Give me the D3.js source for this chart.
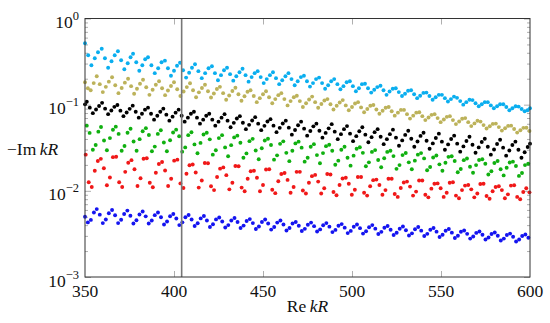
<!DOCTYPE html>
<html>
<head>
<meta charset="utf-8">
<script src="https://cdn.jsdelivr.net/npm/d3@7"></script>
<style>
	body { margin: 0; background: #fff; }
	svg text { font-family: "Liberation Serif", "DejaVu Serif", serif; fill: #111; }
</style>
</head>
<body>
<svg id="chart" width="550" height="323" font-family="Liberation Serif, DejaVu Serif, serif"></svg>
<script>
// resonances, Re kR / Im kR
var cyanRe = [350.0,351.8,353.6,355.5,357.3, 359.4,361.2,363.0,364.9,366.7, 368.5,370.3,372.1,374.0,375.6, 377.0,378.8,380.5,382.2,383.8, 385.4,387.3,389.2,391.1,393.0, 394.9,396.6,398.3,400.0,401.7, 403.4,405.1,406.8,408.5,410.1, 411.8,413.7,415.6,417.5,419.4, 421.3,423.0,424.7,426.4,428.1, 429.8,431.5,433.3,435.0,436.8, 438.5,440.2,441.9,443.6,445.3, 447.0,448.7,450.4,452.1,453.9, 455.6,457.3,459.1,460.8,462.6, 464.3,466.0,467.8,469.5,471.3, 473.0,474.7,476.4,478.1,479.8, 481.5,483.2,484.9,486.6,488.3, 490.0,491.8,493.5,495.2,497.0, 498.8,500.5,502.2,503.9,505.6, 507.3,509.0,510.8,512.5,514.2, 516.0,517.7,519.4,521.1,522.9, 524.6,526.3,528.1,529.8,531.5, 533.2,534.9,536.6,538.3,540.1, 541.8,543.5,545.3,547.0,548.8, 550.5,552.2,553.9,555.6,557.3, 559.0,560.8,562.5,564.2,566.0, 567.7,569.4,571.2,572.9,574.6, 576.3,578.0,579.7,581.5,583.2, 585.0,586.7,588.4,590.1,591.9, 593.6,595.3,597.0,598.6,600.0];
var cyanIm = [.516,.374,.287,.346,.406, .445,.346,.268,.319,.374, .417,.328,.258,.303,.355, .390,.311,.248,.287,.337, .355,.287,.232,.265,.311, .324,.265,.217,.248,.283, .307,.251,.206,.235,.268, .295,.245,.203,.232,.265, .279,.232,.192,.220,.251, .268,.226,.190,.214,.238, .261,.220,.185,.209,.232, .245,.209,.178,.198,.220, .238,.203,.173,.192,.214, .232,.198,.168,.187,.209, .217,.187,.162,.178,.198, .206,.178,.153,.168,.187, .198,.173,.151,.164,.182, .187,.164,.143,.155,.173, .175,.155,.138,.149,.160, .166,.147,.130,.142,.153, .155,.140,.126,.134,.145, .147,.132,.119,.127,.137, .138,.126,.114,.122,.130, .130,.119,.109,.116,.124, .120,.110,.100,.107,.114, .113,.104,.096,.101,.107, .107,.098,.091,.096,.101, .101,.094,.086,.091,.096, .095,.089,.084,.086,.091];

var oliveRe = [350.0,351.6,353.2,354.9, 356.6,358.3,360.0,361.7,363.4, 365.2,367.0,368.8,370.6,372.4, 374.2,375.9,377.6,379.2,380.9, 382.6,384.4,386.2,388.0,389.8, 391.6,393.3,395.0,396.6,398.3, 400.0,401.8,403.6,405.4,407.2, 409.0,410.7,412.4,414.0,415.7, 417.4,419.1,420.8,422.4,424.1, 425.8,427.6,429.3,431.0,432.8, 434.5,436.2,437.9,439.6,441.3, 443.0,444.8,446.5,448.2,450.0, 451.7,453.4,455.2,456.9,458.6, 460.3,462.0,463.8,465.5,467.3, 469.0,470.7,472.4,474.2,475.9, 477.6,479.3,481.0,482.8,484.5, 486.2,487.9,489.6,491.4,493.1, 494.8,496.5,498.2,500.0,501.7, 503.4,505.1,506.8,508.6,510.3, 512.0,513.7,515.4,517.2,518.9, 520.6,522.3,524.0,525.8,527.5, 529.2,530.9,532.6,534.4,536.1, 537.8,539.5,541.2,543.0,544.7, 546.4,548.1,549.8,551.6,553.3, 555.0,556.7,558.4,560.2,561.9, 563.6,565.3,567.0,568.8,570.5, 572.2,573.9,575.6,577.4,579.1, 580.8,582.5,584.2,586.0,587.7, 589.4,591.1,592.8,594.6,596.3, 598.0,599.7];
var oliveIm = [.182,.155,.147,.178, .214,.173,.140,.161,.185, .208,.168,.136,.156,.180, .200,.164,.134,.153,.175, .195,.159,.130,.149,.170, .187,.155,.129,.146,.165, .182,.151,.126,.142,.160, .177,.147,.122,.139,.156, .170,.143,.121,.135,.152, .161,.136,.114,.128,.144, .157,.132,.111,.125,.141, .147,.126,.107,.119,.132, .143,.122,.104,.116,.129, .136,.116,.098,.110,.122, .127,.110,.094,.104,.115, .124,.107,.092,.102,.112, .116,.101,.088,.097,.106, .113,.098,.0863,.094,.103, .107,.093,.0818,.089,.097, .099,.088,.0786,.085,.092, .094,.084,.0746,.0808,.087, .087,.0776,.0689,.0746,.0808, .0818,.0736,.0662,.0711,.0762, .0776,.0698,.0627,.0674,.0722, .0736,.0662,.0595,.0639,.0686, .0698,.0627,.0564,.0606,.0650, .0636,.0579,.0528,.0561,.0598, .0603,.0549,.0500,.0532,.0567, .0571,.0521,.0474,.0504,.0538, .0540,.0494];

var blackRe = [350.0, 351.0,352.7,354.4,356.2,357.9, 359.6,361.3,363.0,364.8,366.5, 368.2,369.9,371.6,373.4,375.1, 376.8,378.5,380.2,382.0,383.7, 385.4,387.1,388.8,390.6,392.3, 394.0,395.7,397.4,399.2,400.9, 402.6,404.3,406.0,407.8,409.5, 411.2,412.9,414.6,416.4,418.1, 419.8,421.5,423.2,425.0,426.7, 428.4,430.1,431.8,433.6,435.3, 437.0,438.7,440.4,442.2,443.9, 445.6,447.3,449.0,450.8,452.5, 454.2,455.9,457.6,459.4,461.1, 462.8,464.5,466.2,468.0,469.7, 471.4,473.1,474.8,476.6,478.3, 480.0,481.7,483.4,485.2,486.9, 488.6,490.3,492.0,493.8,495.5, 497.2,498.9,500.6,502.4,504.1, 505.8,507.5,509.2,511.0,512.7, 514.4,516.1,517.8,519.6,521.3, 523.0,524.7,526.4,528.2,529.9, 531.6,533.3,535.0,536.8,538.5, 540.2,541.9,543.6,545.4,547.1, 548.8,550.5,552.2,554.0,555.7, 557.4,559.1,560.8,562.6,564.3, 566.0,567.7,569.4,571.2,572.9, 574.6,576.3,578.0,579.8,581.5, 583.2,584.9,586.6,588.4,590.1, 591.8,593.5,595.2,597.0,598.7, 600.0];
var blackIm = [.1008, .108,.0923,.0797,.0880,.0964, .105,.0899,.0776,.0857,.0943, .0991,.0852,.0736,.0812,.0894, .0974,.0829,.0707,.0786,.0875, .0923,.0786,.0670,.0745,.0829, .0899,.0766,.0652,.0726,.0808, .0875,.0745,.0635,.0707,.0786, .0829,.0707,.0602,.0670,.0745, .0786,.0670,.0571,.0635,.0707, .0776,.0652,.0548,.0615,.0692, .0736,.0618,.0520,.0583,.0655, .0716,.0602,.0506,.0568,.0638, .0679,.0571,.0480,.0538,.0605, .0652,.0541,.0449,.0509,.0577, .0635,.0527,.0437,.0495,.0560, .0602,.0499,.0414,.0470,.0531, .0594,.0486,.0398,.0455,.0520, .0564,.0461,.0377,.0431,.0492, .0548,.0449,.0367,.0420,.0480, .0520,.0425,.0348,.0398,.0455, .0513,.0414,.0334,.0385,.0446, .0499,.0403,.0325,.0374,.0434, .0473,.0382,.0308,.0355,.0411, .0461,.0372,.0300,.0346,.0400, .0437,.0353,.0285,.0328,.0379, .0425,.0343,.0277,.0319,.0369, .0403,.0325,.0263,.0302,.0350, .0392,.0317,.0256,.0294,.0340, .0372,.0300,.0242,.0280,.0322, .0353];

var greenRe = [351.0,352.6,354.4,356.0,357.5, 359.0,360.7,362.3,364.0,365.7, 367.3,368.9,370.6,372.2,373.9, 375.6,377.3,379.0,380.7,382.4, 384.2,385.9,387.6,389.2,390.9, 392.6,394.3,396.0,397.8,399.5, 401.2,402.9,404.6,406.3,408.0, 409.8,411.5,413.2,414.9,416.6, 418.4,420.1,421.8,423.5,425.2, 427.0,428.7,430.4,432.1,433.8, 435.6,437.3,439.0,440.7,442.4, 444.2,445.9,447.6,449.3,451.0, 452.8,454.5,456.2,457.9,459.6, 461.4,463.1,464.8,466.5,468.2, 470.0,471.7,473.4,475.1,476.8, 478.6,480.3,482.0,483.7,485.4, 487.2,488.9,490.6,492.3,494.0, 495.8,497.5,499.2,500.9,502.6, 504.4,506.1,507.8,509.5,511.2, 513.0,514.7,516.4,518.1,519.8, 521.6,523.3,525.0,526.7,528.4, 530.2,531.9,533.6,535.3,537.0, 538.8,540.5,542.2,543.9,545.6, 547.4,549.1,550.8,552.5,554.2, 556.0,557.7,559.4,561.1,562.8, 564.6,566.3,568.0,569.7,571.4, 573.2,574.9,576.6,578.3,580.0, 581.8,583.5,585.2,586.9,588.6, 590.4,592.1,593.8,595.5,597.2, 599.0];
var greenIm = [.0571,.0470,.0300,.0341,.0486, .0551,.0384,.0296,.0409,.0512, .0556,.0458,.0292,.0332,.0473, .0526,.0374,.0292,.0398,.0492, .0534,.0444,.0288,.0326,.0458, .0504,.0364,.0288,.0387,.0476, .0513,.0430,.0285,.0319,.0443, .0478,.0346,.0273,.0360,.0451, .0473,.0396,.0263,.0296,.0409, .0443,.0319,.0252,.0339,.0417, .0437,.0361,.0242,.0272,.0377, .0401,.0294,.0233,.0312,.0384, .0403,.0340,.0230,.0258,.0351, .0375,.0276,.0221,.0292,.0355, .0372,.0317,.0218,.0242,.0325, .0348,.0260,.0209,.0274,.0330, .0343,.0292,.0201,.0224,.0300, .0325,.0242,.0196,.0256,.0308, .0321,.0276,.0193,.0214,.0283, .0297,.0228,.0188,.0239,.0283, .0292,.0253,.0180,.0199,.0260, .0275,.0214,.0178,.0224,.0263, .0274,.0238,.0173,.0189,.0244, .0257,.0203,.0171,.0212,.0248, .0252,.0222,.0164,.0179,.0227, .0237,.0190,.0162,.0199,.0228, .0233,.0206,.0155,.0169,.0210, .0222,.0178,.0151,.0185,.0213, .0218,.0194,.0149,.0161,.0199, .0206];

var redRe = [350.4,352.1,353.8,355.5,357.2, 358.9,360.6,362.3,364.0,365.7, 367.5,369.2,370.9,372.6,374.3, 376.1,377.8,379.5,381.2,382.9, 384.7,386.4,388.1,389.8,391.5, 393.3,395.0,396.7,398.4,400.1, 401.9,403.6,405.3,407.0,408.7, 410.5,412.2,413.9,415.6,417.3, 419.1,420.8,422.5,424.2,425.9, 427.7,429.4,431.1,432.8,434.5, 436.3,438.0,439.7,441.4,443.1, 444.9,446.6,448.3,450.0,451.7, 453.5,455.2,456.9,458.6,460.3, 462.1,463.8,465.5,467.2,468.9, 470.7,472.4,474.1,475.8,477.5, 479.3,481.0,482.7,484.4,486.1, 487.9,489.6,491.3,493.0,494.7, 496.5,498.2,499.9,501.6,503.3, 505.1,506.8,508.5,510.2,511.9, 513.7,515.4,517.1,518.8,520.5, 522.3,524.0,525.7,527.4,529.1, 530.9,532.6,534.3,536.0,537.7, 539.5,541.2,542.9,544.6,546.3, 548.1,549.8,551.5,553.2,554.9, 556.7,558.4,560.1,561.8,563.5, 565.3,567.0,568.7,570.4,572.1, 573.9,575.6,577.3,579.0,580.7, 582.5,584.2,585.9,587.6,589.3, 591.1,592.8,594.5,596.2,597.9, 599.7];
var redIm = [.0263,.0126,.0111,.0171,.0222, .0235,.0183,.0116,.0143,.0246, .0249,.0126,.0111,.0166,.0212, .0227,.0178,.0114,.0140,.0236, .0239,.0124,.0110,.0162,.0205, .0216,.0172,.0114,.0138,.0224, .0230,.0122,.0108,.0158,.0198, .0202,.0163,.0109,.0132,.0210, .0209,.0113,.0102,.0145,.0181, .0187,.0152,.0104,.0124,.0194, .0193,.0109,.0099,.0138,.0169, .0171,.0142,.0099,.0117,.0177, .0178,.0103,.0094,.0129,.0157, .0161,.0134,.0095,.0111,.0166, .0166,.0101,.0093,.0124,.0148, .0153,.0128,.0093,.0107,.0157, .0155,.0097,.0089,.0117,.0139, .0142,.0121,.0090,.0103,.0145, .0145,.0095,.0088,.0113,.0133, .0135,.0117,.0090,.0102,.0138, .0138,.0092,.0085,.0108,.0125, .0128,.0112,.0088,.0098,.0132, .0132,.0090,.0084,.0106,.0121, .0122,.0107,.0085,.0095,.0124, .0126,.0088,.0082,.0102,.0115, .0117,.0104,.0084,.0093,.0120, .0121,.0087,.0081,.0099,.0111, .0113,.0102,.0082,.0091,.0115, .0116,.0085,.0080,.0097,.0107, .0096];

var blueRe = [350.0,351.6,353.3,355.0, 356.6,358.3,360.0,361.7,363.4, 365.2,366.9,368.6,370.3,372.0, 373.8,375.5,377.2,378.9,380.6, 382.4,384.1,385.8,387.5,389.2, 391.0,392.7,394.4,396.1,397.8, 399.6,401.3,403.0,404.7,406.4, 408.2,409.9,411.6,413.3,415.0, 416.8,418.5,420.2,421.9,423.6, 425.4,427.1,428.8,430.5,432.2, 434.0,435.7,437.4,439.1,440.8, 442.6,444.3,446.0,447.7,449.4, 451.2,452.9,454.6,456.3,458.0, 459.8,461.5,463.2,464.9,466.6, 468.4,470.1,471.8,473.5,475.2, 477.0,478.7,480.4,482.1,483.8, 485.6,487.3,489.0,490.7,492.4, 494.2,495.9,497.6,499.3,501.0, 502.8,504.5,506.2,507.9,509.6, 511.4,513.1,514.8,516.5,518.2, 520.0,521.7,523.4,525.1,526.8, 528.6,530.3,532.0,533.7,535.4, 537.2,538.9,540.6,542.3,544.0, 545.8,547.5,549.2,550.9,552.6, 554.4,556.1,557.8,559.5,561.2, 563.0,564.7,566.4,568.1,569.8, 571.6,573.3,575.0,576.7,578.4, 580.2,581.9,583.6,585.3,587.0, 588.8,590.5,592.2,593.9,595.6, 597.4,599.1];
var blueIm = [.0050,.0043,.0046,.0056, .00614,.00529,.00422,.00464,.00550, .00598,.00521,.00422,.00461,.00539, .00590,.00514,.00417,.00455,.00532, .00575,.00506,.00417,.00452,.00522, .00560,.00493,.00406,.00440,.00508, .00538,.00478,.00400,.00431,.00493, .00524,.00465,.00390,.00420,.00479, .00510,.00453,.00380,.00409,.00466, .00490,.00440,.00375,.00400,.00452, .00483,.00434,.00370,.00395,.00446, .00470,.00422,.00360,.00385,.00434, .00464,.00417,.00355,.00380,.00428, .00452,.00406,.00346,.00370,.00417, .00434,.00394,.00342,.00362,.00404, .00428,.00389,.00337,.00357,.00399, .00422,.00384,.00332,.00352,.00393, .00411,.00374,.00323,.00343,.00383, .00406,.00369,.00319,.00339,.00378, .00400,.00364,.00315,.00334,.00373, .00390,.00354,.00307,.00326,.00363, .00385,.00349,.00303,.00321,.00358, .00380,.00345,.00299,.00317,.00353, .00370,.00336,.00291,.00309,.00344, .00360,.00327,.00283,.00301,.00335, .00346,.00317,.00279,.00295,.00325, .00337,.00309,.00272,.00287,.00316, .00328,.00301,.00265,.00279,.00307, .00319,.00293,.00258,.00272,.00299, .00311,.00285];

var xTickLabels = [350, 400, 450, 500, 550, 600];
var yDecades = [-3, -2, -1, 0];
var markerRe = 404.3;

var series = [
	{name: "cyan", color: "#0aaeef", re: cyanRe, im: cyanIm},
	{name: "olive", color: "#bcb25a", re: oliveRe, im: oliveIm},
	{name: "black", color: "#000000", re: blackRe, im: blackIm},
	{name: "green", color: "#10b010", re: greenRe, im: greenIm},
	{name: "red", color: "#f01818", re: redRe, im: redIm},
	{name: "blue", color: "#1414f0", re: blueRe, im: blueIm}
];

var margin = {top: 18.5, right: 20, bottom: 46, left: 85},
	width = 550 - margin.left - margin.right,
	height = 323 - margin.top - margin.bottom;

var x = d3.scaleLinear().domain([350, 600]).range([0, width]);
var y = d3.scaleLog().domain([1e-3, 1]).range([height, 0]);

var svg = d3.select("#chart");
svg.append("rect").attr("width", 550).attr("height", 323).attr("fill", "#fff");

var g = svg.append("g")
	.attr("transform", "translate(" + margin.left + "," + margin.top + ")");

//  minor / major log ticks
var minorTicks = [], majorTicks = [];
yDecades.forEach(function(e) {
	if (e < 0) {
		for (var k = 2; k <= 9; k++) minorTicks.push(k * Math.pow(10, e));
	}
	majorTicks.push(Math.pow(10, e));
});
var xInner = xTickLabels.filter(function(d) { return d > 350 && d < 600; });

function styleAxis(sel) {
	sel.select(".domain").remove();
	sel.selectAll(".tick line").attr("stroke", "#9a9a9a").attr("stroke-width", 0.8);
	sel.selectAll(".tick text").remove();
}

g.append("g").attr("transform", "translate(0," + height + ")")
	.call(d3.axisBottom(x).tickValues(xInner).tickSize(-6)).call(styleAxis);
g.append("g")
	.call(d3.axisTop(x).tickValues(xInner).tickSize(-6)).call(styleAxis);
g.append("g")
	.call(d3.axisLeft(y).tickValues(minorTicks).tickSize(-3)).call(styleAxis);
g.append("g")
	.call(d3.axisLeft(y).tickValues(majorTicks).tickSize(-6)).call(styleAxis);
g.append("g").attr("transform", "translate(" + width + ",0)")
	.call(d3.axisRight(y).tickValues(minorTicks).tickSize(-3)).call(styleAxis);
g.append("g").attr("transform", "translate(" + width + ",0)")
	.call(d3.axisRight(y).tickValues(majorTicks).tickSize(-6)).call(styleAxis);

//  dots
series.forEach(function(s) {
	var pts = d3.zip(s.re, s.im);
	g.append("g").attr("class", "series-" + s.name)
		.selectAll("circle")
		.data(pts)
		.enter().append("circle")
		.attr("cx", function(d) { return x(d[0]); })
		.attr("cy", function(d) { return y(d[1]); })
		.attr("r", 1.95)
		.attr("fill", s.color);
});

//  vertical marker
g.append("line")
	.attr("x1", x(markerRe)).attr("x2", x(markerRe))
	.attr("y1", 0).attr("y2", height)
	.attr("stroke", "#777")
	.attr("stroke-width", 1.6);

//  frame
g.append("rect")
	.attr("width", width).attr("height", height)
	.attr("fill", "none")
	.attr("stroke", "#333")
	.attr("stroke-width", 1);

//  tick labels
g.selectAll(".xlab").data(xTickLabels).enter().append("text")
	.attr("class", "xlab")
	.attr("x", function(d) { return x(d); })
	.attr("y", height + 19.5)
	.attr("text-anchor", "middle")
	.style("font-size", "17.5px")
	.text(function(d) { return d; });

var ylab = g.selectAll(".ylab").data(yDecades).enter().append("text")
	.attr("class", "ylab")
	.attr("x", -6)
	.attr("y", function(d) { return y(Math.pow(10, d)) + 9.5; })
	.attr("text-anchor", "end")
	.style("font-size", "17.5px");
ylab.append("tspan").text("10");
ylab.append("tspan")
	.attr("dy", -8)
	.style("font-size", "12.5px")
	.text(function(d) { return d < 0 ? "\u2212" + (-d) : String(d); });

//  axis titles
var xt = g.append("text")
	.attr("x", width / 2)
	.attr("y", height + 35)
	.attr("text-anchor", "middle")
	.style("font-size", "17.5px");
xt.append("tspan").text("Re\u2009");
xt.append("tspan").style("font-style", "italic").text("kR");

var yt = svg.append("text")
	.attr("x", 7)
	.attr("y", 154.5)
	.style("font-size", "17.5px");
yt.append("tspan").text("\u2212Im\u2009");
yt.append("tspan").style("font-style", "italic").text("kR");
</script>
</body>
</html>
